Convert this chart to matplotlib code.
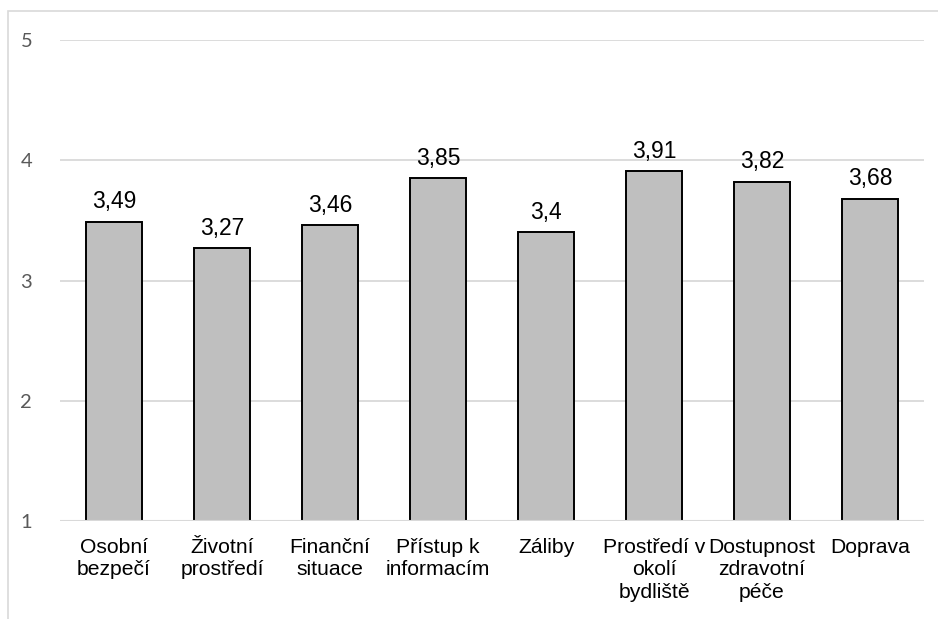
import matplotlib
matplotlib.use("Agg")
import matplotlib.pyplot as plt
from matplotlib.patches import Rectangle

categories = ["Osobní\nbezpečí", "Životní\nprostředí", "Finanční\nsituace", "Přístup k\ninformacím",
              "Záliby", "Prostředí v\nokolí\nbydliště", "Dostupnost\nzdravotní\npéče", "Doprava"]
values = [3.49, 3.27, 3.46, 3.85, 3.4, 3.91, 3.82, 3.68]
value_labels = ["3,49", "3,27", "3,46", "3,85", "3,4", "3,91", "3,82", "3,68"]
yticks = [1, 2, 3, 4, 5]

W, H = 938, 619
fig = plt.figure(figsize=(W / 100, H / 100), dpi=100)
ax = fig.add_axes([60 / W, (H - 521) / H, (924 - 60) / W, (521 - 40) / H])

x = list(range(len(categories)))
base = 1
ax.bar(x, [v - base for v in values], bottom=base, width=0.51, color="#BFBFBF",
       edgecolor="black", linewidth=1.4, zorder=3)
for xi, v, lab in zip(x, values, value_labels):
    ax.text(xi, v + 0.07, lab, ha="center", va="bottom", fontsize=16.5,
            family="Liberation Sans", color="black")

ax.set_xlim(-0.5, len(categories) - 0.5)
ax.set_ylim(1, 5)
ax.set_yticks(yticks)
ax.set_yticklabels([str(t) for t in yticks], fontsize=14.5, color="#595959", family="Lato")
ax.yaxis.grid(True, color="#D9D9D9", linewidth=1.3, zorder=0)
ax.set_axisbelow(True)
ax.tick_params(axis="y", length=0, pad=20)
ax.tick_params(axis="x", length=0, pad=12)
ax.set_xticks(x)
ax.set_xticklabels(categories, fontsize=15.2, family="Liberation Sans", linespacing=1.25)
for s in ax.spines.values():
    s.set_visible(False)
ax.axhline(1, color="#D9D9D9", linewidth=1.5, zorder=4)

fig.patches.append(Rectangle((8 / W, -0.1), 1.2, (H - 11) / H + 0.1, transform=fig.transFigure,
                             fill=False, edgecolor="#D9D9D9", linewidth=1.2))

fig.savefig("out.png", dpi=100)
